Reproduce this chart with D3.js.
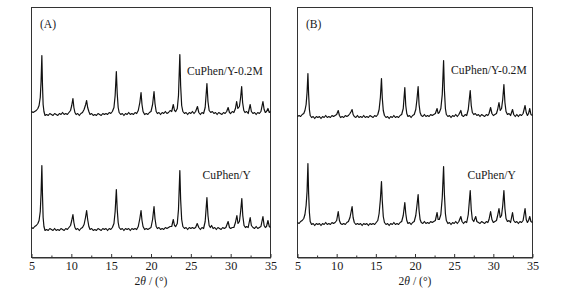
<!DOCTYPE html>
<html><head><meta charset="utf-8">
<script src="https://cdn.jsdelivr.net/npm/d3@7"></script>
<style>body{margin:0;background:#fff}svg{display:block}</style>
</head><body>
<svg id="c" width="561" height="295"></svg>
<script>
const xTicks = [5,10,15,20,25,30,35];
const xMinorTicks = [7.5,12.5,17.5,22.5,27.5,32.5];
const panelLabels = ["(A)","(B)"];
const seriesNames = ["CuPhen/Y-0.2M","CuPhen/Y"];

const seriesA_top = [[5.0,146],[5.2,145],[5.4,146],[5.6,147],[5.8,149],[5.95,152],[6.1,160],[6.2,176],[6.3,202],[6.38,172],[6.46,153],[6.56,146],[6.7,142],[6.9,143],[7.1,142],[7.3,144],[7.5,143],[7.7,142],[7.9,144],[8.1,143],[8.3,142],[8.5,144],[8.7,143],[8.9,145],[9.1,143],[9.3,144],[9.5,143],[9.7,145],[9.9,147],[10.05,152],[10.2,159],[10.32,150],[10.45,145],[10.6,143],[10.8,144],[11.0,142],[11.2,144],[11.4,145],[11.6,148],[11.8,153],[11.92,157],[12.05,150],[12.2,146],[12.35,143],[12.55,144],[12.75,142],[12.95,143],[13.15,142],[13.35,144],[13.55,143],[13.75,142],[13.95,144],[14.15,143],[14.35,144],[14.55,143],[14.75,145],[14.95,144],[15.15,146],[15.35,150],[15.5,162],[15.65,186],[15.76,164],[15.88,150],[16.0,145],[16.2,143],[16.4,144],[16.6,142],[16.8,144],[17.0,143],[17.2,145],[17.4,143],[17.6,144],[17.8,143],[18.0,145],[18.2,144],[18.4,147],[18.6,155],[18.75,165],[18.87,153],[19.0,146],[19.2,143],[19.4,144],[19.6,143],[19.8,145],[20.0,146],[20.2,153],[20.38,166],[20.5,154],[20.65,146],[20.8,144],[21.0,145],[21.2,143],[21.4,145],[21.6,144],[21.8,146],[22.0,144],[22.2,145],[22.4,147],[22.6,146],[22.8,153],[22.95,147],[23.1,146],[23.3,149],[23.45,162],[23.62,203],[23.72,172],[23.85,152],[24.0,146],[24.2,144],[24.4,145],[24.6,143],[24.8,145],[25.0,144],[25.2,146],[25.4,144],[25.6,146],[25.83,151],[26.0,145],[26.2,143],[26.4,145],[26.6,144],[26.8,150],[27.02,174],[27.15,156],[27.3,147],[27.5,145],[27.7,146],[27.9,144],[28.1,145],[28.3,143],[28.5,145],[28.7,144],[28.9,143],[29.1,145],[29.3,144],[29.5,146],[29.68,150],[29.85,145],[30.0,144],[30.2,146],[30.4,145],[30.6,149],[30.75,156],[30.9,149],[31.1,151],[31.25,160],[31.38,171],[31.5,155],[31.65,147],[31.8,145],[32.0,146],[32.2,144],[32.45,153],[32.6,146],[32.8,144],[33.0,145],[33.2,143],[33.4,145],[33.6,144],[33.8,146],[34.05,156],[34.2,148],[34.35,145],[34.5,146],[34.68,149],[34.85,145],[35.0,146]];

const seriesA_bottom = [[5.0,30],[5.2,29],[5.4,31],[5.6,32],[5.8,34],[5.95,37],[6.1,46],[6.2,64],[6.3,92],[6.38,62],[6.46,40],[6.56,31],[6.7,27],[6.9,28],[7.1,27],[7.3,29],[7.5,28],[7.7,27],[7.9,29],[8.1,27],[8.3,28],[8.5,27],[8.7,29],[8.9,28],[9.1,27],[9.3,29],[9.5,28],[9.7,30],[9.9,32],[10.05,37],[10.2,43],[10.32,35],[10.45,30],[10.6,28],[10.8,29],[11.0,27],[11.2,29],[11.4,30],[11.6,33],[11.78,40],[11.92,47],[12.05,38],[12.2,31],[12.35,28],[12.55,29],[12.75,27],[12.95,28],[13.15,27],[13.35,29],[13.55,28],[13.75,27],[13.95,29],[14.15,28],[14.35,29],[14.55,27],[14.75,29],[14.95,28],[15.15,30],[15.35,34],[15.5,46],[15.65,68],[15.76,48],[15.88,35],[16.0,30],[16.2,28],[16.4,29],[16.6,27],[16.8,29],[17.0,28],[17.2,29],[17.4,27],[17.6,29],[17.8,28],[18.0,29],[18.2,28],[18.4,31],[18.6,39],[18.75,47],[18.87,37],[19.0,31],[19.2,28],[19.4,29],[19.6,28],[19.8,29],[20.0,30],[20.2,38],[20.38,51],[20.5,39],[20.65,31],[20.8,29],[21.0,30],[21.2,28],[21.4,29],[21.6,28],[21.8,30],[22.0,29],[22.2,30],[22.4,31],[22.6,31],[22.8,38],[22.95,32],[23.1,31],[23.3,34],[23.45,48],[23.62,87],[23.72,58],[23.85,38],[24.0,31],[24.2,29],[24.4,30],[24.6,28],[24.8,30],[25.0,29],[25.2,30],[25.4,29],[25.6,30],[25.8,34],[26.0,30],[26.2,28],[26.4,30],[26.6,29],[26.8,36],[27.02,60],[27.15,42],[27.3,32],[27.45,30],[27.6,32],[27.8,29],[28.0,30],[28.2,28],[28.4,30],[28.6,29],[28.8,28],[29.0,30],[29.2,29],[29.4,30],[29.68,36],[29.85,30],[30.0,29],[30.2,30],[30.4,30],[30.6,35],[30.78,42],[30.92,34],[31.1,36],[31.25,46],[31.4,59],[31.52,42],[31.68,32],[31.85,30],[32.0,31],[32.2,30],[32.45,40],[32.6,32],[32.8,30],[33.0,29],[33.2,31],[33.4,29],[33.6,30],[33.8,31],[34.05,41],[34.2,32],[34.35,30],[34.5,31],[34.68,37],[34.85,31],[35.0,30]];

const seriesB_top = [[5.0,141],[5.2,142],[5.4,141],[5.6,143],[5.8,144],[5.95,147],[6.1,153],[6.22,165],[6.33,184],[6.42,163],[6.52,148],[6.62,142],[6.8,140],[7.0,141],[7.2,139],[7.4,141],[7.6,140],[7.8,141],[8.0,139],[8.2,141],[8.4,140],[8.6,142],[8.8,140],[9.0,141],[9.2,140],[9.4,142],[9.6,141],[9.8,142],[10.0,143],[10.2,147],[10.35,142],[10.5,140],[10.7,141],[10.9,140],[11.1,142],[11.3,141],[11.5,142],[11.7,144],[11.85,146],[11.97,148],[12.1,143],[12.25,141],[12.45,140],[12.65,142],[12.85,140],[13.05,141],[13.25,140],[13.45,142],[13.65,140],[13.85,141],[14.05,140],[14.25,142],[14.45,141],[14.65,140],[14.85,142],[15.05,141],[15.25,143],[15.42,148],[15.58,160],[15.72,179],[15.82,160],[15.95,147],[16.1,142],[16.3,140],[16.5,141],[16.7,139],[16.9,141],[17.1,140],[17.3,142],[17.5,140],[17.7,141],[17.9,140],[18.1,142],[18.3,143],[18.5,149],[18.7,170],[18.82,152],[18.95,144],[19.1,141],[19.3,142],[19.5,140],[19.7,142],[19.9,143],[20.1,148],[20.25,158],[20.4,171],[20.52,153],[20.65,145],[20.8,142],[21.0,141],[21.2,143],[21.4,141],[21.6,142],[21.8,141],[22.0,143],[22.2,142],[22.4,143],[22.6,144],[22.82,149],[22.95,144],[23.1,145],[23.3,149],[23.48,163],[23.65,197],[23.75,168],[23.88,149],[24.0,143],[24.2,141],[24.4,142],[24.6,140],[24.8,142],[25.0,141],[25.2,143],[25.4,141],[25.6,143],[25.85,147],[26.0,142],[26.2,141],[26.4,143],[26.6,142],[26.8,148],[27.05,167],[27.18,152],[27.32,145],[27.5,143],[27.7,144],[27.9,142],[28.1,143],[28.3,141],[28.5,143],[28.7,142],[28.9,141],[29.1,143],[29.3,142],[29.45,144],[29.65,150],[29.82,144],[30.0,142],[30.2,143],[30.4,144],[30.55,148],[30.72,155],[30.88,147],[31.05,149],[31.2,158],[31.35,173],[31.48,155],[31.62,146],[31.8,143],[32.0,144],[32.2,142],[32.45,148],[32.6,143],[32.8,141],[33.0,143],[33.2,141],[33.4,143],[33.6,142],[33.8,144],[34.05,152],[34.2,145],[34.35,142],[34.5,144],[34.65,149],[34.8,143],[35.0,142]];

const seriesB_bottom = [[5.0,35],[5.2,34],[5.4,36],[5.6,37],[5.8,39],[5.95,43],[6.1,52],[6.22,66],[6.33,94],[6.42,64],[6.52,45],[6.62,36],[6.8,33],[7.0,34],[7.2,32],[7.4,34],[7.6,33],[7.8,34],[8.0,32],[8.2,34],[8.4,33],[8.6,35],[8.8,33],[9.0,34],[9.2,33],[9.4,35],[9.6,34],[9.8,35],[10.0,37],[10.2,46],[10.35,37],[10.5,34],[10.7,33],[10.9,34],[11.1,33],[11.3,35],[11.5,36],[11.7,40],[11.85,46],[11.97,51],[12.1,40],[12.25,35],[12.45,33],[12.65,34],[12.85,33],[13.05,34],[13.25,32],[13.45,34],[13.65,33],[13.85,34],[14.05,32],[14.25,34],[14.45,33],[14.65,34],[14.85,33],[15.05,35],[15.25,37],[15.42,44],[15.58,58],[15.72,76],[15.82,57],[15.95,41],[16.1,35],[16.3,33],[16.5,34],[16.7,32],[16.9,34],[17.1,33],[17.3,35],[17.5,33],[17.7,34],[17.9,33],[18.1,35],[18.3,36],[18.5,42],[18.7,55],[18.82,44],[18.95,37],[19.1,34],[19.3,35],[19.5,33],[19.7,35],[19.9,36],[20.1,42],[20.25,52],[20.4,63],[20.52,47],[20.65,38],[20.8,35],[21.0,34],[21.2,36],[21.4,34],[21.6,35],[21.8,34],[22.0,36],[22.2,35],[22.4,36],[22.6,37],[22.82,45],[22.95,38],[23.1,38],[23.3,43],[23.48,60],[23.65,91],[23.75,64],[23.88,44],[24.0,37],[24.2,34],[24.4,35],[24.6,33],[24.8,35],[25.0,34],[25.2,36],[25.4,34],[25.6,36],[25.85,41],[26.0,36],[26.2,34],[26.4,36],[26.6,35],[26.8,43],[27.05,67],[27.18,48],[27.32,38],[27.5,36],[27.75,41],[27.9,36],[28.1,35],[28.3,34],[28.5,36],[28.7,35],[28.9,34],[29.1,36],[29.3,35],[29.45,38],[29.65,46],[29.82,38],[30.0,35],[30.2,36],[30.4,37],[30.55,42],[30.72,49],[30.88,40],[31.05,42],[31.2,52],[31.35,67],[31.48,49],[31.62,39],[31.8,36],[32.0,37],[32.2,35],[32.45,45],[32.6,37],[32.8,35],[33.0,36],[33.2,34],[33.4,36],[33.6,35],[33.8,37],[34.05,49],[34.2,38],[34.35,35],[34.5,37],[34.65,41],[34.8,36],[35.0,35]];

const panels = [
  {label: panelLabels[0], left: 31.5, right: 270.5, series: [seriesA_top, seriesA_bottom],
   nameX: [187, 202.5], nameY: [74.5, 179]},
  {label: panelLabels[1], left: 297.5, right: 532.5, series: [seriesB_top, seriesB_bottom],
   nameX: [451, 467.5], nameY: [74, 179]}
];
const plotTop = 7.5, plotBottom = 257.5;
const svg = d3.select("#c");
const font = "'Liberation Serif','Times New Roman',serif";
const fs = 11.6;

panels.forEach(p => {
  const x = d3.scaleLinear().domain([5,35]).range([p.left, p.right]);
  const y = d3.scaleLinear().domain([0,250]).range([plotBottom, plotTop]);
  const g = svg.append("g");

  g.append("rect").attr("x", p.left).attr("y", plotTop)
    .attr("width", p.right - p.left).attr("height", plotBottom - plotTop)
    .attr("fill", "none").attr("stroke", "#333").attr("stroke-width", 1);

  const ax = d3.axisBottom(x).tickValues(xTicks).tickSizeInner(-3.5).tickSizeOuter(0);
  const axG = g.append("g").attr("transform", `translate(0,${plotBottom})`).call(ax);
  axG.select(".domain").attr("stroke", "#333");
  axG.selectAll(".tick line").attr("stroke", "#333");
  axG.selectAll(".tick text").attr("font-family", font).attr("font-size", 12.2)
    .attr("fill", "#1a1a1a").attr("y", 3.5).attr("dy", "0.71em");
  const axm = d3.axisBottom(x).tickValues(xMinorTicks).tickSizeInner(-2).tickSizeOuter(0).tickFormat("");
  const axmG = g.append("g").attr("transform", `translate(0,${plotBottom})`).call(axm);
  axmG.select(".domain").remove();
  axmG.selectAll(".tick line").attr("stroke", "#333");

  const t = g.append("text").attr("x", (p.left + p.right)/2).attr("y", 285)
    .attr("text-anchor", "middle").attr("font-family", font).attr("font-size", fs).attr("fill", "#1a1a1a");
  t.append("tspan").text("2");
  t.append("tspan").attr("font-style", "italic").text("θ");
  t.append("tspan").text(" / (°)");

  g.append("text").attr("x", p.left + 8.5).attr("y", 28).attr("font-family", font)
    .attr("font-size", fs).attr("fill", "#1a1a1a").text(p.label);

  const line = d3.line().x(d => x(d[0])).y(d => y(d[1]));
  p.series.forEach((s, i) => {
    g.append("path").datum(s).attr("d", line).attr("fill", "none")
      .attr("stroke", "#111").attr("stroke-width", 1.2).attr("stroke-linejoin", "round");
    g.append("text").attr("x", p.nameX[i]).attr("y", p.nameY[i]).attr("font-family", font)
      .attr("font-size", fs).attr("fill", "#1a1a1a").text(seriesNames[i]);
  });
});
</script>
</body></html>
